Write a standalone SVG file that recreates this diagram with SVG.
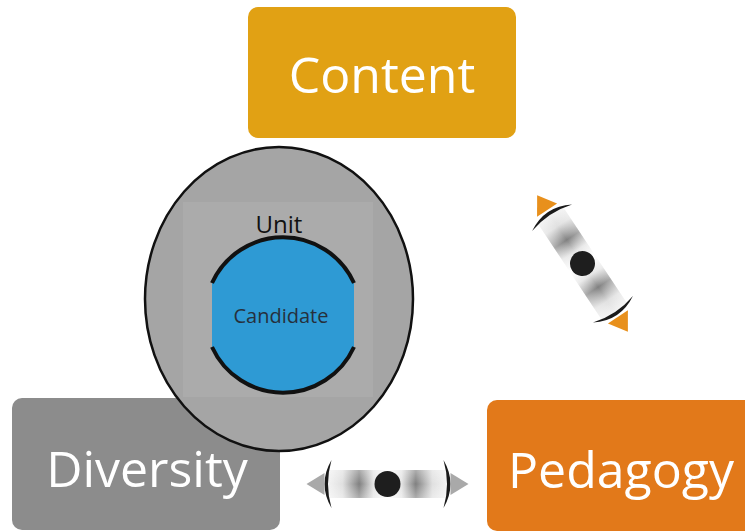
<svg xmlns="http://www.w3.org/2000/svg" width="745" height="532" viewBox="0 0 745 532">
  <style>
    .box-label { font-family: "Open Sans", "Noto Sans", sans-serif; font-size: 50px; fill: #ffffff; text-anchor: middle; }
    .inner-label { font-family: "Open Sans", "Noto Sans", sans-serif; text-anchor: middle; }
    .cap { fill: #1a1a1a; }
    .dot { fill: #1e1e1e; }
  </style>
  <defs>
    <!-- metallic shading along the double-arrow shaft -->
    <linearGradient id="shaft" x1="0" y1="0" x2="1" y2="0">
      <stop offset="0" stop-color="#f2f2f2"/>
      <stop offset="0.12" stop-color="#e0e0e0"/>
      <stop offset="0.26" stop-color="#808080"/>
      <stop offset="0.38" stop-color="#e4e4e4"/>
      <stop offset="0.5" stop-color="#ffffff"/>
      <stop offset="0.62" stop-color="#e4e4e4"/>
      <stop offset="0.74" stop-color="#808080"/>
      <stop offset="0.88" stop-color="#e0e0e0"/>
      <stop offset="1" stop-color="#f2f2f2"/>
    </linearGradient>
    <linearGradient id="shaftEdge" x1="0" y1="0" x2="0" y2="1">
      <stop offset="0" stop-color="#ffffff" stop-opacity="0.35"/>
      <stop offset="0.5" stop-color="#ffffff" stop-opacity="0"/>
      <stop offset="1" stop-color="#ffffff" stop-opacity="0.35"/>
    </linearGradient>
    <clipPath id="candidateClip">
      <circle cx="283" cy="315" r="78"/>
    </clipPath>
  </defs>

  <rect width="745" height="532" fill="#ffffff"/>

  <g id="node-content">
    <rect x="248" y="7" width="268" height="131" rx="10" fill="#e1a114"/>
    <text class="box-label" x="382" y="93">Content</text>
  </g>

  <g id="node-pedagogy">
    <rect x="487" y="400" width="272" height="131" rx="10" fill="#e2791a"/>
    <text class="box-label" x="621" y="488">Pedagogy</text>
  </g>

  <g id="node-diversity">
    <rect x="12" y="398" width="268" height="132" rx="10" fill="#8c8c8c"/>
    <text class="box-label" x="147" y="487">Diversity</text>
  </g>

  <g id="node-unit">
    <ellipse cx="279" cy="299" rx="134" ry="152" fill="#a5a5a5" stroke="#111111" stroke-width="2.5"/>
    <rect x="183" y="202" width="190" height="195" fill="#ababab"/>
    <text class="inner-label" x="279" y="233" font-size="24" fill="#111111">Unit</text>
  </g>

  <g id="node-candidate">
    <rect x="212" y="230" width="142" height="170" fill="#2e9ad4" clip-path="url(#candidateClip)"/>
    <path d="M 212 283 A 78 78 0 0 1 354 283" fill="none" stroke="#111111" stroke-width="4"/>
    <path d="M 212 347 A 78 78 0 0 0 354 347" fill="none" stroke="#111111" stroke-width="4"/>
    <text class="inner-label" x="281" y="323" font-size="20" fill="#26303c">Candidate</text>
  </g>

  <g id="connectors">
    <!-- Content <-> Pedagogy -->
    <g transform="translate(582.5 263.5) rotate(56.4)">
      <rect x="-59" y="-15" width="118" height="30" fill="url(#shaft)"/>
      <rect x="-59" y="-15" width="118" height="30" fill="url(#shaftEdge)"/>
      <path class="cap" d="M -55 -24 Q -69 0 -55 24 Q -62 0 -55 -24 Z"/>
      <path class="cap" d="M 55 -24 Q 69 0 55 24 Q 62 0 55 -24 Z"/>
      <polygon points="-64,-12 -82,0 -64,12" fill="#e8901c"/>
      <polygon points="64,-12 82,0 64,12" fill="#e8901c"/>
      <circle class="dot" cx="0" cy="0" r="12.5"/>
    </g>
    <!-- Diversity <-> Pedagogy -->
    <g transform="translate(387.5 484)">
      <rect x="-59" y="-14" width="118" height="28" fill="url(#shaft)"/>
      <rect x="-59" y="-14" width="118" height="28" fill="url(#shaftEdge)"/>
      <path class="cap" d="M -56 -24 Q -70 0 -56 24 Q -63 0 -56 -24 Z"/>
      <path class="cap" d="M 56 -24 Q 70 0 56 24 Q 63 0 56 -24 Z"/>
      <polygon points="-63,-11 -81,0 -63,11" fill="#a9a9a9"/>
      <polygon points="63,-11 81,0 63,11" fill="#a9a9a9"/>
      <circle class="dot" cx="0" cy="0" r="13"/>
    </g>
  </g>
</svg>
